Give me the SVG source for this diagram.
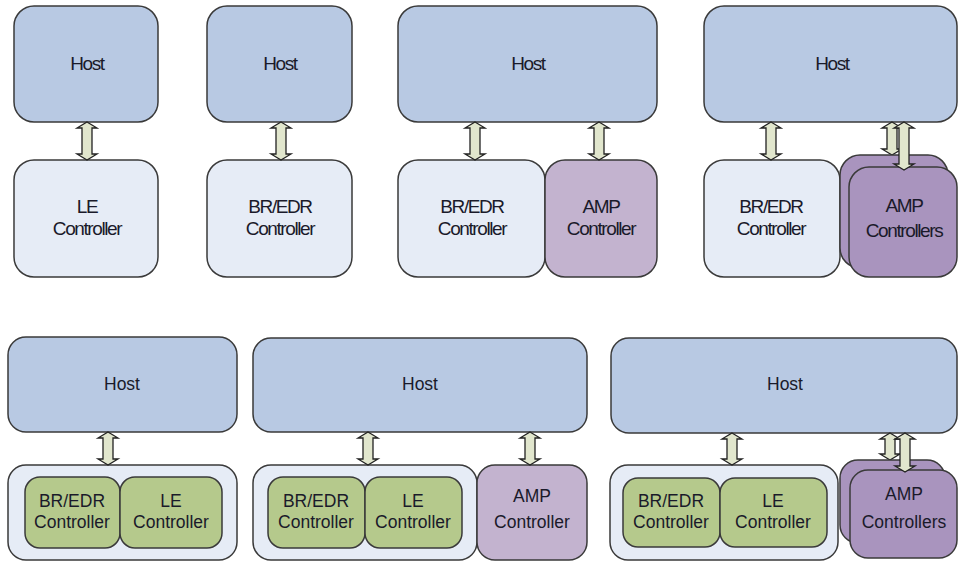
<svg xmlns="http://www.w3.org/2000/svg" width="958" height="561" viewBox="0 0 958 561">
<style>
.box{stroke:#3a3a3a;stroke-width:1.5}
.host{fill:#b8c9e3}
.ctl{fill:#e6ecf6}
.amp{fill:#c3b3cf}
.ampd{fill:#a994be}
.grn{fill:#b5c98c}
.arr{fill:#e1e6cd;stroke:#222222;stroke-width:1.3;stroke-linejoin:miter}
.t1{font-family:"Liberation Sans",Arial,sans-serif;font-size:19px;letter-spacing:-1.4px;fill:#1a1a2a;text-anchor:middle}
.t2{font-family:"Liberation Sans",Arial,sans-serif;font-size:17.5px;fill:#1a1a2a;text-anchor:middle}
</style>
<rect width="958" height="561" fill="#ffffff"/>

<g id="top1">
  <g id="t1-host"><rect class="box host" x="14" y="6" width="144" height="116" rx="20"/><text class="t1" x="87" y="70">Host</text></g>
  <g id="t1-le"><rect class="box ctl" x="14" y="160" width="144" height="117" rx="20"/><text class="t1" x="87" y="213">LE</text><text class="t1" x="87" y="235">Controller</text></g>
</g>
<g id="top2">
  <g id="t2-host"><rect class="box host" x="207" y="6" width="145" height="116" rx="20"/><text class="t1" x="280" y="70">Host</text></g>
  <g id="t2-bredr"><rect class="box ctl" x="207" y="160" width="145" height="117" rx="20"/><text class="t1" x="280" y="213">BR/EDR</text><text class="t1" x="280" y="235">Controller</text></g>
</g>
<g id="top3">
  <g id="t3-host"><rect class="box host" x="398" y="6" width="259" height="116" rx="20"/><text class="t1" x="528" y="70">Host</text></g>
  <g id="t3-bredr"><rect class="box ctl" x="398" y="160" width="147" height="117" rx="20"/><text class="t1" x="472" y="213">BR/EDR</text><text class="t1" x="472" y="235">Controller</text></g>
  <g id="t3-amp"><rect class="box amp" x="545" y="160" width="112" height="117" rx="20"/><text class="t1" x="601" y="213">AMP</text><text class="t1" x="601" y="235">Controller</text></g>
</g>
<g id="top4">
  <g id="t4-host"><rect class="box host" x="704" y="6" width="253" height="116" rx="20"/><text class="t1" x="832" y="70">Host</text></g>
  <g id="t4-bredr"><rect class="box ctl" x="704" y="160" width="136" height="117" rx="20"/><text class="t1" x="771" y="213">BR/EDR</text><text class="t1" x="771" y="235">Controller</text></g>
</g>

<g id="bot1">
  <g id="b1-host"><rect class="box host" x="8" y="337" width="229" height="95" rx="18"/><text class="t2" x="122" y="390">Host</text></g>
  <g id="b1-ctl"><rect class="box ctl" x="8" y="465" width="229" height="95" rx="18"/>
    <g id="b1-bredr"><rect class="box grn" x="25" y="477" width="95" height="71" rx="15"/><text class="t2" x="72" y="507">BR/EDR</text><text class="t2" x="72" y="528">Controller</text></g>
    <g id="b1-le"><rect class="box grn" x="120" y="477" width="102" height="71" rx="15"/><text class="t2" x="171" y="507">LE</text><text class="t2" x="171" y="528">Controller</text></g>
  </g>
</g>
<g id="bot2">
  <g id="b2-host"><rect class="box host" x="253" y="338" width="334" height="94" rx="18"/><text class="t2" x="420" y="390">Host</text></g>
  <g id="b2-ctl"><rect class="box ctl" x="253" y="465" width="224" height="95" rx="18"/>
    <g id="b2-bredr"><rect class="box grn" x="268" y="477" width="97" height="71" rx="15"/><text class="t2" x="316" y="507">BR/EDR</text><text class="t2" x="316" y="528">Controller</text></g>
    <g id="b2-le"><rect class="box grn" x="365" y="477" width="97" height="71" rx="15"/><text class="t2" x="413" y="507">LE</text><text class="t2" x="413" y="528">Controller</text></g>
  </g>
  <g id="b2-amp"><rect class="box amp" x="477" y="465" width="110" height="95" rx="18"/><text class="t2" x="532" y="502">AMP</text><text class="t2" x="532" y="528">Controller</text></g>
</g>
<g id="bot3">
  <g id="b3-host"><rect class="box host" x="611" y="338" width="346" height="95" rx="18"/><text class="t2" x="785" y="390">Host</text></g>
  <g id="b3-ctl"><rect class="box ctl" x="610" y="465" width="228" height="95" rx="18"/>
    <g id="b3-bredr"><rect class="box grn" x="623" y="478" width="97" height="69" rx="15"/><text class="t2" x="671" y="507">BR/EDR</text><text class="t2" x="671" y="528">Controller</text></g>
    <g id="b3-le"><rect class="box grn" x="720" y="478" width="107" height="69" rx="15"/><text class="t2" x="773" y="507">LE</text><text class="t2" x="773" y="528">Controller</text></g>
  </g>
</g>

<g id="connectors">
  <path class="arr" d="M87,122 L97,128 L92,128 L92,154 L97,154 L87,160 L77,154 L82,154 L82,128 L77,128 Z"/>
  <path class="arr" d="M281,122 L291,128 L286,128 L286,154 L291,154 L281,160 L271,154 L276,154 L276,128 L271,128 Z"/>
  <path class="arr" d="M475,122 L485,128 L480,128 L480,154 L485,154 L475,160 L465,154 L470,154 L470,128 L465,128 Z"/>
  <path class="arr" d="M599,122 L609,128 L604,128 L604,154 L609,154 L599,160 L589,154 L594,154 L594,128 L589,128 Z"/>
  <path class="arr" d="M771,122 L781,128 L776,128 L776,154 L781,154 L771,160 L761,154 L766,154 L766,128 L761,128 Z"/>
  <path class="arr" d="M892,122 L902,128 L897,128 L897,149 L902,149 L892,155 L882,149 L887,149 L887,128 L882,128 Z"/>
  <path class="arr" d="M108,432 L118,438 L113,438 L113,459 L118,459 L108,465 L98,459 L103,459 L103,438 L98,438 Z"/>
  <path class="arr" d="M368,432 L378,438 L373,438 L373,459 L378,459 L368,465 L358,459 L363,459 L363,438 L358,438 Z"/>
  <path class="arr" d="M530,432 L540,438 L535,438 L535,459 L540,459 L530,465 L520,459 L525,459 L525,438 L520,438 Z"/>
  <path class="arr" d="M732,433 L742,439 L737,439 L737,459 L742,459 L732,465 L722,459 L727,459 L727,439 L722,439 Z"/>
  <path class="arr" d="M890,433 L900,439 L895,439 L895,454 L900,454 L890,460 L880,454 L885,454 L885,439 L880,439 Z"/>
</g>

<g id="t4-amp">
  <rect class="box ampd" x="840" y="155" width="108" height="113" rx="20"/>
  <rect class="box ampd" x="849" y="167" width="108" height="110" rx="20"/>
  <text class="t1" x="904" y="212">AMP</text><text class="t1" x="904" y="237">Controllers</text>
</g>
<g id="b3-amp">
  <rect class="box ampd" x="840" y="460" width="105" height="83" rx="18"/>
  <rect class="box ampd" x="850" y="470" width="107" height="88" rx="18"/>
  <text class="t2" x="904" y="500">AMP</text><text class="t2" x="904" y="528">Controllers</text>
</g>
<g id="connectors-front">
  <path class="arr" d="M904,122 L914,128 L909,128 L909,164 L914,164 L904,170 L894,164 L899,164 L899,128 L894,128 Z"/>
  <path class="arr" d="M905,433 L915,439 L910,439 L910,466 L915,466 L905,472 L895,466 L900,466 L900,439 L895,439 Z"/>
</g>
</svg>
